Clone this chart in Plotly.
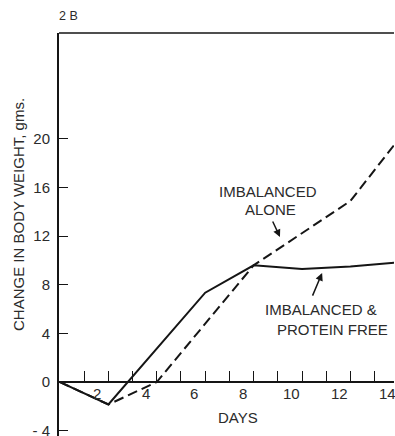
import plotly.graph_objects as go

# ---- data ----
days_protein_free = [0, 2, 6, 8, 10, 12, 14]
gain_protein_free = [0, -1.85, 7.35, 9.6, 9.3, 9.5, 9.85]

days_alone = [0, 2, 4, 8, 12, 14]
gain_alone = [0, -1.85, 0, 9.6, 14.9, 20.0]

x_tick_vals = list(range(1, 14))
x_label_vals = [2, 4, 6, 8, 10, 12, 14]
x_label_text = ["2", "4", "6", "8", "10", "12", "14"]
y_tick_vals = [-4, 0, 4, 8, 12, 16, 20]
y_tick_text = ["- 4", "0", "4", "8", "12", "16", "20"]

FONT = "Liberation Sans"
TXT = "#2b2b2b"
LINE = "#151515"

X_RANGE = [-0.04, 13.8]
Y_RANGE = [-4.44, 28.72]

fig = go.Figure()
fig.add_trace(go.Scatter(x=days_protein_free, y=gain_protein_free, mode="lines",
                         line=dict(color=LINE, width=2), showlegend=False, hoverinfo="skip"))
fig.add_trace(go.Scatter(x=days_alone, y=gain_alone, mode="lines",
                         line=dict(color=LINE, width=2, dash="10px,5px"), showlegend=False,
                         hoverinfo="skip"))

zero_pos = (0 - Y_RANGE[0]) / (Y_RANGE[1] - Y_RANGE[0])

fig.update_layout(
    width=395, height=436,
    margin=dict(l=59, r=1, t=33, b=0),
    paper_bgcolor="white", plot_bgcolor="white",
    xaxis=dict(range=X_RANGE, showgrid=False, zeroline=False, automargin=False,
               anchor="free", position=zero_pos,
               showline=True, linecolor=LINE, linewidth=1.5,
               ticks="inside", ticklen=10, tickwidth=1.3, tickcolor=LINE,
               tickvals=x_tick_vals, showticklabels=False),
    yaxis=dict(range=Y_RANGE, showgrid=False, zeroline=False, automargin=False,
               showline=True, linecolor=LINE, linewidth=2,
               ticks="inside", ticklen=9, tickwidth=1.3, tickcolor=LINE,
               tickvals=y_tick_vals, ticktext=y_tick_text,
               tickfont=dict(family=FONT, size=15, color=TXT),
               ticklabelstandoff=4, ticklabeloverflow="allow"),
)

# top frame line
fig.add_shape(type="line", xref="paper", yref="paper", x0=0, x1=1, y0=1, y1=1,
              line=dict(color=LINE, width=1.5))

# x tick labels (offset to the left of the ticks as in the original)
for v, t in zip(x_label_vals, x_label_text):
    fig.add_annotation(x=v - 0.45, y=0, xref="x", yref="y", text=t, showarrow=False,
                       yshift=-11, xanchor="center", yanchor="middle",
                       font=dict(family=FONT, size=15, color=TXT))

fig.add_annotation(x=7.36, y=-2.88, xref="x", yref="y", text="DAYS", showarrow=False,
                   xanchor="center", yanchor="middle",
                   font=dict(family=FONT, size=15, color=TXT))

fig.add_annotation(x=(18 - 59) / 335, y=(436 - 215) / 403, xref="paper", yref="paper",
                   text="CHANGE IN BODY WEIGHT, gms.", textangle=-90, showarrow=False,
                   xanchor="center", yanchor="middle",
                   font=dict(family=FONT, size=15, color=TXT))

fig.add_annotation(x=-0.006, y=(436 - 16) / 403, xref="paper", yref="paper",
                   text="2 B", showarrow=False, xanchor="left", yanchor="middle",
                   font=dict(family=FONT, size=12.5, color=TXT))

# series labels
fig.add_annotation(x=8.6, y=15.64, xref="x", yref="y", text="IMBALANCED",
                   showarrow=False, xanchor="center", yanchor="middle",
                   font=dict(family=FONT, size=15, color=TXT))
fig.add_annotation(x=8.68, y=14.16, xref="x", yref="y", text="ALONE",
                   showarrow=False, xanchor="center", yanchor="middle",
                   font=dict(family=FONT, size=15, color=TXT))
fig.add_annotation(x=9.09, y=11.93, ax=8.76, ay=13.33, xref="x", yref="y",
                   axref="x", ayref="y", text="", showarrow=True,
                   arrowhead=2, arrowsize=1, arrowwidth=1.5, arrowcolor=LINE)

fig.add_annotation(x=10.78, y=5.94, xref="x", yref="y", text="IMBALANCED &",
                   showarrow=False, xanchor="center", yanchor="middle",
                   font=dict(family=FONT, size=15, color=TXT))
fig.add_annotation(x=11.24, y=4.29, xref="x", yref="y", text="PROTEIN FREE",
                   showarrow=False, xanchor="center", yanchor="middle",
                   font=dict(family=FONT, size=15, color=TXT))
fig.add_annotation(x=10.83, y=8.97, ax=10.41, ay=6.99, xref="x", yref="y",
                   axref="x", ayref="y", text="", showarrow=True,
                   arrowhead=2, arrowsize=1, arrowwidth=1.5, arrowcolor=LINE)

fig.write_html("out.html")
